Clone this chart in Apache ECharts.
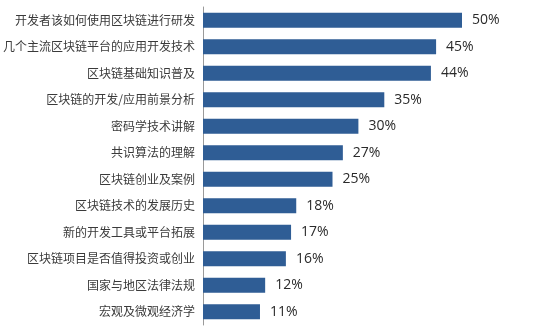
<!DOCTYPE html>
<html>
<head>
<meta charset="utf-8">
<script src="https://cdn.jsdelivr.net/npm/echarts@6/dist/echarts.min.js"></script>
<style>
  html, body { margin: 0; padding: 0; background: #ffffff; }
  #chart { width: 545px; height: 334px; }
</style>
</head>
<body>
<div id="chart"></div>
<script>
// Topics, listed top to bottom
const topics = [
  '开发者该如何使用区块链进行研发',
  '几个主流区块链平台的应用开发技术',
  '区块链基础知识普及',
  '区块链的开发/应用前景分析',
  '密码学技术讲解',
  '共识算法的理解',
  '区块链创业及案例',
  '区块链技术的发展历史',
  '新的开发工具或平台拓展',
  '区块链项目是否值得投资或创业',
  '国家与地区法律法规',
  '宏观及微观经济学'
];
// Share of respondents (%) for each topic
const shares = [50, 45, 44, 35, 30, 27, 25, 18, 17, 16, 12, 11];

const chart = echarts.init(document.getElementById('chart'), null, { renderer: 'canvas' });
chart.setOption({
  animation: false,
  backgroundColor: '#ffffff',
  grid: { left: 203, right: 83, top: 7, bottom: 9, containLabel: false },
  xAxis: {
    type: 'value',
    min: 0,
    max: 50,
    show: false
  },
  yAxis: {
    type: 'category',
    data: topics,
    inverse: true,
    axisLine: { show: true, lineStyle: { color: '#9a9a9a', width: 1 } },
    axisTick: { show: false },
    axisLabel: {
      margin: 8,
      color: '#3a3a3a',
      fontSize: 12,
      fontFamily: '"Noto Sans CJK SC", sans-serif'
    }
  },
  series: [{
    type: 'bar',
    data: shares,
    barWidth: 15,
    itemStyle: { color: '#2f5d95' },
    label: {
      show: true,
      position: 'right',
      distance: 10,
      formatter: '{c}%',
      color: '#2a2a2a',
      fontSize: 14,
      fontFamily: '"Open Sans", sans-serif'
    }
  }]
});
</script>
</body>
</html>
